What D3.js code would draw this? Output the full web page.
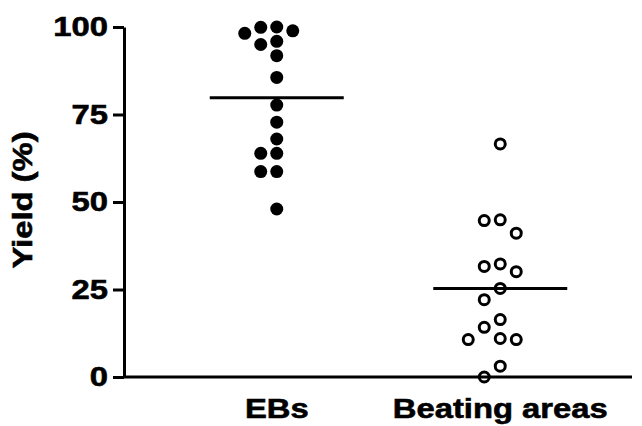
<!DOCTYPE html>
<html>
<head>
<meta charset="utf-8">
<script src="https://cdn.jsdelivr.net/npm/d3@7"></script>
<style>
  body { margin: 0; background: #fff; }
  text { font-family: "Liberation Sans", Arial, sans-serif; font-weight: bold; fill: #000; stroke: #000; stroke-width: 0.6px; }
</style>
</head>
<body>
<div id="chart"></div>
<script>
// Data
const groups = ["EBs", "Beating areas"];
const ebsYield = [100, 99.9, 98.9, 98.2, 95.9, 95, 91.8, 85.6, 77.7, 72.8, 68, 63.9, 63.9, 58.7, 58.7, 48];
const beatingYield = [66.6, 44.9, 44.7, 41.1, 32.3, 31.6, 30.1, 25.3, 22.1, 16.4, 14.2, 11, 10.7, 10.7, 3.1, 0];
const yTicks = [0, 25, 50, 75, 100];

const width = 642, height = 426;
const stretch = 1.17; // the original lettering is wide

const svg = d3.select("#chart").append("svg")
    .attr("width", width)
    .attr("height", height);

const x = d3.scaleBand()
    .domain(groups)
    .range([165, 612]);

const y = d3.scaleLinear()
    .domain([0, 100])
    .range([377, 27]);

// widen text the way the original is drawn
function widen(sel) {
    sel.each(function() {
        const len = this.getComputedTextLength();
        d3.select(this)
            .attr("textLength", len * stretch)
            .attr("lengthAdjust", "spacingAndGlyphs");
    });
}

// y axis
const yAxis = svg.append("g")
    .attr("transform", "translate(124,0)")
    .call(d3.axisLeft(y).tickValues(yTicks).tickSize(11).tickSizeOuter(0).tickPadding(5));
yAxis.selectAll("path, line").attr("stroke", "#000").attr("stroke-width", 3);
yAxis.selectAll("text").style("font-size", "28px").call(widen);

// x axis line runs the whole width
svg.append("line")
    .attr("x1", 124)
    .attr("x2", 632)
    .attr("y1", y(0))
    .attr("y2", y(0))
    .attr("stroke", "#000")
    .attr("stroke-width", 3);

const xAxis = svg.append("g")
    .attr("transform", `translate(0,${y(0)})`)
    .call(d3.axisBottom(x).tickSize(0).tickPadding(21));
xAxis.select(".domain").remove();
xAxis.selectAll("text").style("font-size", "28px").call(widen);

// y axis title
svg.append("text")
    .attr("transform", "translate(32,200) rotate(-90)")
    .attr("text-anchor", "middle")
    .style("font-size", "28px")
    .text("Yield (%)")
    .call(widen);

// simple beeswarm: place each dot in the first free column slot
function swarm(values, cx) {
    const step = 16, minDist = 14;
    const placed = [];
    const order = [0, -1, 1, -2, 2, -3, 3];
    values.slice().sort((a, b) => b - a).forEach(v => {
        const py = y(v);
        for (const k of order) {
            const px = cx + k * step;
            const hit = placed.some(p => Math.hypot(p.x - px, p.y - py) < minDist);
            if (!hit) { placed.push({ x: px, y: py, v: v }); break; }
        }
    });
    return placed;
}

const series = [
    { name: "EBs", values: ebsYield, filled: true },
    { name: "Beating areas", values: beatingYield, filled: false }
];

series.forEach(s => {
    const cx = x(s.name) + x.bandwidth() / 2;
    const pts = swarm(s.values, cx);

    svg.append("g").selectAll("circle")
        .data(pts)
        .enter()
        .append("circle")
        .attr("cx", d => d.x)
        .attr("cy", d => d.y)
        .attr("r", s.filled ? 6.5 : 5)
        .attr("fill", s.filled ? "#000" : "none")
        .attr("stroke", "#000")
        .attr("stroke-width", s.filled ? 0 : 3);

    // mean line
    const m = d3.mean(s.values);
    svg.append("line")
        .attr("x1", cx - 67)
        .attr("x2", cx + 67)
        .attr("y1", y(m))
        .attr("y2", y(m))
        .attr("stroke", "#000")
        .attr("stroke-width", 3);
});
</script>
</body>
</html>
